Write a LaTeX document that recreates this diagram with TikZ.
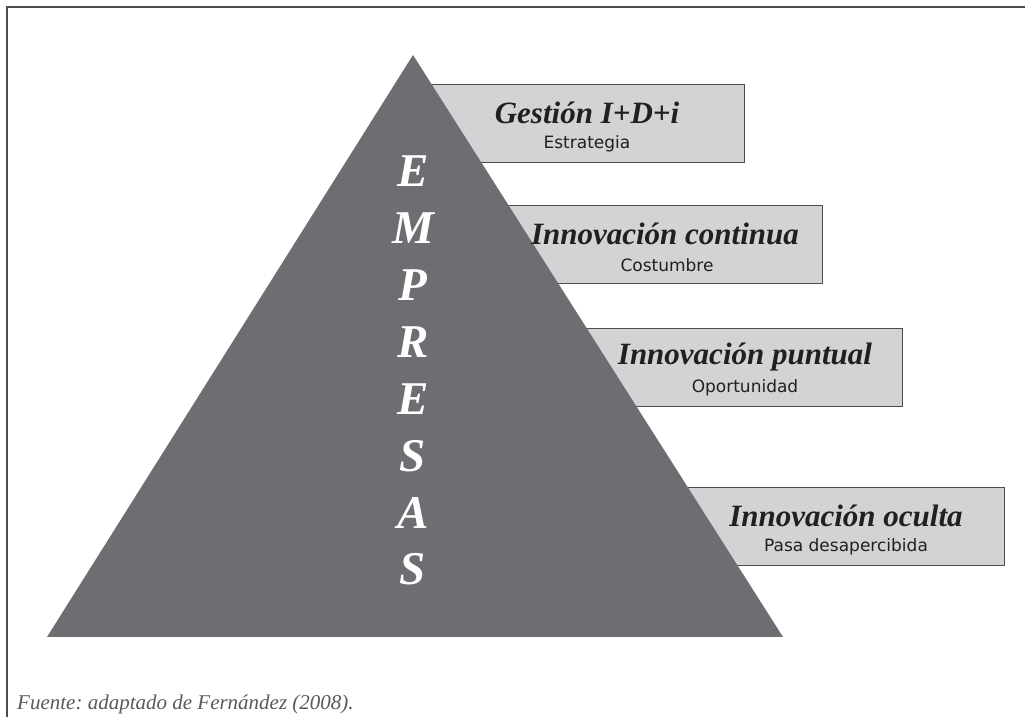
\documentclass[tikz,border=0pt]{standalone}
\usepackage{fontspec}
\setmainfont{Liberation Serif}
\newfontfamily\subfont{DejaVu Sans}
\frenchspacing
\definecolor{trigray}{HTML}{6D6E72}
\definecolor{boxgray}{HTML}{D1D3D4}
\definecolor{edgegray}{HTML}{4D4D4F}
\definecolor{txtdark}{HTML}{231F20}
\definecolor{notegray}{HTML}{58595B}
\tikzset{
  levelbox/.style={draw=edgegray, line width=1.1pt, fill=boxgray, inner sep=0pt, anchor=north east, minimum height=78pt},
  leveltitle/.style={font=\fontsize{31}{31}\selectfont\bfseries\itshape, text=txtdark, inner sep=0pt},
  levelsub/.style={font=\subfont\fontsize{17}{17}\selectfont, text=txtdark, inner sep=0pt},
  letter/.style={font=\fontsize{47}{47}\selectfont\bfseries\itshape, text=white, inner sep=0pt},
  frameline/.style={draw=edgegray, line width=1.1pt}
}
\begin{document}
\begin{tikzpicture}[x=1pt,y=1pt]
\useasboundingbox (0,0) rectangle (1025,717);
% frame
\coordinate (fbl) at (7,0);
\coordinate (ftl) at (7,710);
\coordinate (ftr) at (1025,710);
\draw[frameline] (fbl) -- (ftl) -- (ftr);
% boxes (behind the pyramid)
\node[levelbox, minimum width=332pt] (b1) at (745,633) {};
\node[levelbox, minimum width=410pt] (b2) at (823,512) {};
\node[levelbox, minimum width=490pt] (b3) at (903,389) {};
\node[levelbox, minimum width=592pt] (b4) at (1005,230) {};
% pyramid
\coordinate (apex) at (413,662);
\coordinate (bl) at (47,80);
\coordinate (br) at (783,80);
\fill[trigray] (bl) -- (apex) -- (br) -- cycle;
% letters
\node[letter] (l1) at (413,546) {E};
\node[letter] (l2) at (413,489) {M};
\node[letter] (l3) at (413,432) {P};
\node[letter] (l4) at (413,375) {R};
\node[letter] (l5) at (413,318) {E};
\node[letter] (l6) at (413,261) {S};
\node[letter] (l7) at (413,204) {A};
\node[letter] (l8) at (413,148) {S};
% box texts
\node[leveltitle] (t1) at (587,604) {Gestión I+D+i};
\node[levelsub] (s1) at (587,573) {Estrategia};
\node[leveltitle] (t2) at (665,483) {Innovación continua};
\node[levelsub] (s2) at (667,452) {Costumbre};
\node[leveltitle] (t3) at (745,360) {Innovación puntual};
\node[levelsub] (s3) at (745,329) {Oportunidad};
\node[leveltitle] (t4) at (846,201) {Innovación oculta};
\node[levelsub] (s4) at (846,170) {Pasa desapercibida};
% source note
\node[font=\fontsize{21}{21}\selectfont\itshape, text=notegray, anchor=west, inner sep=0pt] (src) at (17,13) {Fuente: adaptado de Fernández (2008).};
\end{tikzpicture}
\end{document}
